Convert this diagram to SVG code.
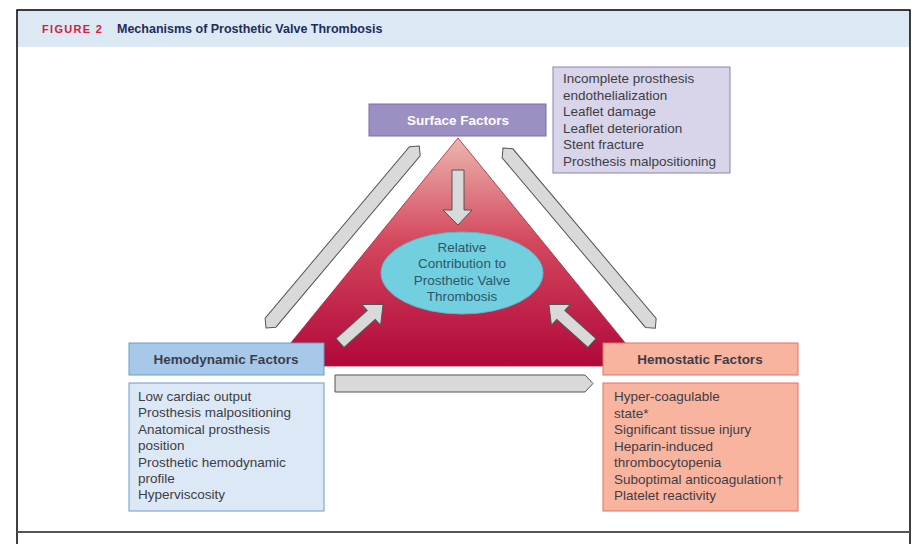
<svg xmlns="http://www.w3.org/2000/svg" width="922" height="544" viewBox="0 0 922 544">
<defs>
<linearGradient id="triGrad" x1="0" y1="0" x2="0" y2="1">
<stop offset="0" stop-color="#ecb6ae"/>
<stop offset="0.45" stop-color="#d4485e"/>
<stop offset="1" stop-color="#b1073a"/>
</linearGradient>
<style>
text{font-family:"Liberation Sans",Arial,sans-serif}
.list{font-size:13.5px;fill:#3d3d45}
.hdr{font-size:13.5px;font-weight:bold;fill:#3d3d4a;text-anchor:middle}
.arrow{fill:#d9d9d9;stroke:#555;stroke-width:1}
.ell{font-size:13.5px;fill:#2e5666;text-anchor:middle}
</style>
</defs>
<rect x="0" y="0" width="922" height="544" fill="#fff"/>
<rect x="17" y="10" width="893" height="37" fill="#dde8f5"/>
<path d="M17,544 V10 H910 V544" fill="none" stroke="#000" stroke-width="1.5"/>
<line x1="17" y1="532" x2="910" y2="532" stroke="#555" stroke-width="2"/>
<text x="42" y="33" font-size="11" font-weight="bold" fill="#d4203a" letter-spacing="1.3">FIGURE 2</text>
<text x="117" y="33" font-size="12.5" font-weight="bold" fill="#1f2d5a">Mechanisms of Prosthetic Valve Thrombosis</text>

<g id="triangle">
<polygon points="458,138 272,366 644,366" fill="url(#triGrad)" stroke="#a8203a" stroke-width="0.8"/>
</g>

<g id="connectors">
<polygon class="arrow" transform="translate(266,328) rotate(-49.9)" points="0,0 7,-7 231,-7 238,0 231,7 7,7"/>
<polygon class="arrow" transform="translate(503,148) rotate(49.8)" points="0,0 7,-7 229,-7 236,0 229,7 7,7"/>
<polygon class="arrow" points="335,375 585,375 593,383.5 585,392 335,392"/>
<polygon class="arrow" points="452,170 464,170 464,210 472,210 458,225 443,210 452,210"/>
<polygon class="arrow" transform="translate(340,343) rotate(-42)" points="0,-6 42,-6 42,-14 58,0 42,14 42,6 0,6"/>
<polygon class="arrow" transform="translate(592,343) rotate(-138)" points="0,-6 42,-6 42,-14 58,0 42,14 42,6 0,6"/>
</g>

<g id="center">
<ellipse cx="462" cy="273" rx="81" ry="41" fill="#72cfe0" stroke="#5bb8cc" stroke-width="1"/>
<text class="ell" x="462" y="252">Relative</text>
<text class="ell" x="462" y="268">Contribution to</text>
<text class="ell" x="462" y="285">Prosthetic Valve</text>
<text class="ell" x="462" y="301">Thrombosis</text>
</g>

<g id="surface">
<rect x="369" y="104" width="177" height="32" fill="#9b8fc4" stroke="#7a6fab" stroke-width="1"/>
<text x="458" y="125" font-size="13.5" font-weight="bold" fill="#fff" text-anchor="middle">Surface Factors</text>
</g>
<g id="surface-list">
<rect x="553" y="67" width="177" height="106" fill="#d8d5ea" stroke="#8a80b8" stroke-width="1"/>
<text class="list" x="563" y="83">Incomplete prosthesis</text>
<text class="list" x="563" y="100">endothelialization</text>
<text class="list" x="563" y="116">Leaflet damage</text>
<text class="list" x="563" y="133">Leaflet deterioration</text>
<text class="list" x="563" y="149">Stent fracture</text>
<text class="list" x="563" y="166">Prosthesis malpositioning</text>
</g>

<g id="hemodynamic">
<rect x="129" y="343" width="195" height="32" fill="#a8c8ea" stroke="#6a9ccc" stroke-width="1"/>
<text class="hdr" x="226" y="364">Hemodynamic Factors</text>
</g>
<g id="hemodynamic-list">
<rect x="129" y="383" width="195" height="128" fill="#dce8f6" stroke="#6a9ccc" stroke-width="1"/>
<text class="list" x="138" y="401">Low cardiac output</text>
<text class="list" x="138" y="417">Prosthesis malpositioning</text>
<text class="list" x="138" y="434">Anatomical prosthesis</text>
<text class="list" x="138" y="450">position</text>
<text class="list" x="138" y="467">Prosthetic hemodynamic</text>
<text class="list" x="138" y="483">profile</text>
<text class="list" x="138" y="499">Hyperviscosity</text>
</g>

<g id="hemostatic">
<rect x="603" y="343" width="195" height="32" fill="#f9b4a0" stroke="#e07060" stroke-width="1"/>
<text class="hdr" x="700" y="364">Hemostatic Factors</text>
</g>
<g id="hemostatic-list">
<rect x="603" y="383" width="195" height="128" fill="#f9b4a0" stroke="#e07060" stroke-width="1"/>
<text class="list" x="614" y="401">Hyper-coagulable</text>
<text class="list" x="614" y="418">state*</text>
<text class="list" x="614" y="434">Significant tissue injury</text>
<text class="list" x="614" y="451">Heparin-induced</text>
<text class="list" x="614" y="467">thrombocytopenia</text>
<text class="list" x="614" y="484">Suboptimal anticoagulation†</text>
<text class="list" x="614" y="500">Platelet reactivity</text>
</g>
</svg>
